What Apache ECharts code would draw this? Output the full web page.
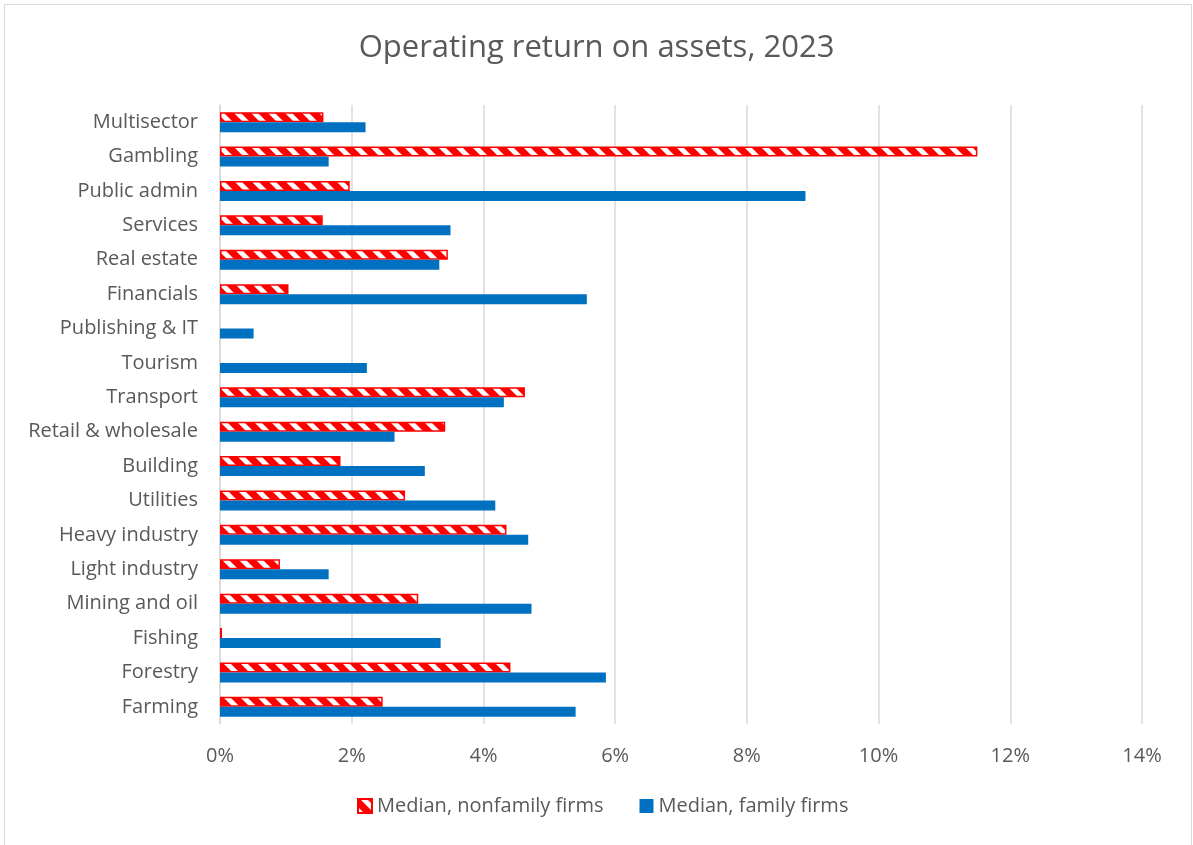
<!DOCTYPE html>
<html>
<head>
<meta charset="utf-8">
<script src="https://cdn.jsdelivr.net/npm/echarts@6/dist/echarts.min.js"></script>
<style>
  html, body { margin: 0; padding: 0; background: #fff; }
  #frame { position: absolute; left: 4px; top: 4px; width: 1188px; height: 850px; border: 1.5px solid #d9d9d9; box-sizing: border-box; }
  #chart { position: absolute; left: 0; top: 0; width: 1193px; height: 845px; }
</style>
</head>
<body>
<div id="frame"></div>
<div id="chart"></div>
<script>
// Categories, top to bottom as shown
const categories = ["Multisector", "Gambling", "Public admin", "Services", "Real estate", "Financials",
  "Publishing & IT", "Tourism", "Transport", "Retail & wholesale", "Building", "Utilities",
  "Heavy industry", "Light industry", "Mining and oil", "Fishing", "Forestry", "Farming"];
// Values in percent
const nonfamilyMedian = [1.57, 11.50, 1.97, 1.56, 3.46, 1.04, null, null, 4.63, 3.42, 1.83, 2.81,
  4.35, 0.91, 3.01, 0.03, 4.41, 2.47];
const familyMedian = [2.21, 1.65, 8.89, 3.50, 3.33, 5.57, 0.51, 2.23, 4.31, 2.65, 3.11, 4.18,
  4.68, 1.65, 4.73, 3.35, 5.86, 5.40];
const xTicks = [0, 2, 4, 6, 8, 10, 12, 14];

function stripePattern() {
  const s = 17;
  const c = document.createElement('canvas');
  c.width = s; c.height = s;
  const g = c.getContext('2d');
  g.fillStyle = '#ff0000';
  g.fillRect(0, 0, s, s);
  g.fillStyle = '#ffffff';
  for (let k = -1; k <= 1; k++) {
    const o = k * s;
    g.beginPath();
    g.moveTo(o + 2, 0);
    g.lineTo(o + 9, 0);
    g.lineTo(o + 9 + s, s);
    g.lineTo(o + 2 + s, s);
    g.closePath();
    g.fill();
  }
  return c;
}

const chart = echarts.init(document.getElementById('chart'), null, { renderer: 'canvas' });
const font = '"Open Sans", "Noto Sans", sans-serif';
chart.setOption({
  animation: false,
  textStyle: { fontFamily: font },
  title: {
    text: 'Operating return on assets, 2023',
    left: 'center', top: 28,
    textStyle: { fontFamily: font, fontSize: 31, fontWeight: 'normal', color: '#595959' }
  },
  legend: {
    bottom: 24, left: 352, itemWidth: 14, itemHeight: 14, itemGap: 36,
    textStyle: { fontFamily: font, fontSize: 20, color: '#595959' },
    data: [
      { name: 'Median, nonfamily firms', icon: 'rect' },
      { name: 'Median, family firms', icon: 'rect' }
    ]
  },
  grid: { left: 220, right: 51, top: 105, bottom: 121, containLabel: false },
  xAxis: {
    type: 'value', min: 0, max: 14, interval: 2,
    axisLine: { show: false }, axisTick: { show: false },
    axisLabel: { formatter: v => v + '%', fontSize: 20, color: '#595959', margin: 22, fontFamily: font,
      customValues: xTicks },
    splitLine: { lineStyle: { color: '#d9d9d9', width: 1.5 } }
  },
  yAxis: {
    type: 'category', data: categories, inverse: true,
    axisLine: { show: true, lineStyle: { color: '#d9d9d9', width: 1.5 } },
    axisTick: { show: false },
    axisLabel: { fontSize: 20, color: '#595959', margin: 22, fontFamily: font }
  },
  series: [
    {
      name: 'Median, nonfamily firms', type: 'bar', data: nonfamilyMedian,
      barWidth: 10, barGap: '0%',
      itemStyle: { color: { image: stripePattern(), repeat: 'repeat' }, borderColor: '#ff0000', borderWidth: 1.5 }
    },
    {
      name: 'Median, family firms', type: 'bar', data: familyMedian,
      barWidth: 10, barGap: '0%',
      itemStyle: { color: '#0070c0' }
    }
  ]
});
</script>
</body>
</html>
